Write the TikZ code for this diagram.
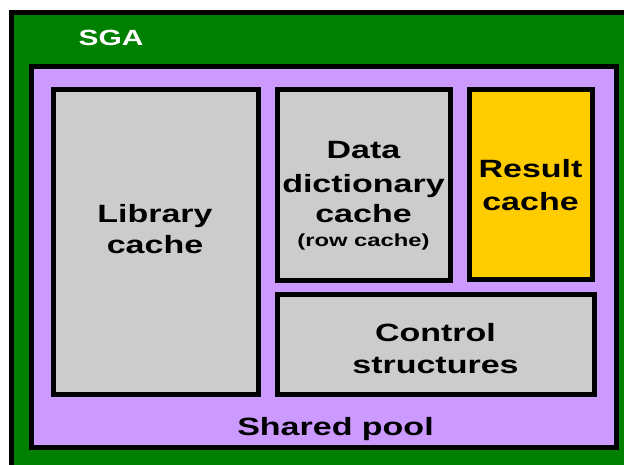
\documentclass[tikz,border=0pt]{standalone}
\usepackage{fontspec}
\usepackage{graphicx}
\setmainfont{Liberation Sans}
\definecolor{sgagreen}{RGB}{0,128,0}
\definecolor{poolpurple}{RGB}{204,153,255}
\definecolor{boxgrey}{RGB}{204,204,204}
\definecolor{resyellow}{RGB}{255,204,0}
\newcommand{\wtxt}[1]{\scalebox{1.36}[1]{#1}}
\tikzset{
  frame/.style={draw=black, line width=5pt},
  lbl/.style={anchor=base, inner sep=0pt, font=\bfseries\fontsize{25}{30}\selectfont},
  smalllbl/.style={anchor=base, inner sep=0pt, font=\bfseries\fontsize{17.5}{21}\selectfont},
}
\begin{document}
\begin{tikzpicture}[x=1pt,y=-1pt]
\useasboundingbox (0,0) rectangle (624,464);
\begin{scope}
\clip (0,0) rectangle (624,464);
% SGA
\fill[white] (0,0) rectangle (624,464);
\draw[frame, line width=4.5pt, fill=sgagreen] (11.5,12.5) rectangle (650,490);
\node[lbl, text=white, font=\bfseries\fontsize{22}{26}\selectfont] (sga) at (111,45) {\wtxt{SGA}};
% Shared pool
\draw[frame, fill=poolpurple] (31.5,66.5) rectangle (616.5,447.5);
\node[lbl] (shared) at (335.5,435) {\wtxt{Shared pool}};
% Library cache
\draw[frame, fill=boxgrey] (53.5,89.5) rectangle (258.5,394.5);
\node[lbl] (lib1) at (155,222) {\wtxt{Library}};
\node[lbl] (lib2) at (155,253) {\wtxt{cache}};
% Data dictionary cache
\draw[frame, fill=boxgrey] (277.5,89.5) rectangle (450.5,280.5);
\node[lbl] (dd1) at (363.5,158) {\wtxt{Data}};
\node[lbl] (dd2) at (363.5,192) {\wtxt{dictionary}};
\node[lbl] (dd3) at (363.5,222) {\wtxt{cache}};
\node[smalllbl] (dd4) at (363.5,246) {\wtxt{(row cache)}};
% Result cache
\draw[frame, fill=resyellow] (469.5,89.5) rectangle (592.5,279.5);
\node[lbl] (rc1) at (530.5,177) {\wtxt{Result}};
\node[lbl] (rc2) at (530.5,210) {\wtxt{cache}};
% Control structures
\draw[frame, fill=boxgrey] (277.5,294.5) rectangle (594.5,394.5);
\node[lbl] (cs1) at (435.5,341) {\wtxt{Control}};
\node[lbl] (cs2) at (435.5,373) {\wtxt{structures}};
\end{scope}
\end{tikzpicture}
\end{document}
